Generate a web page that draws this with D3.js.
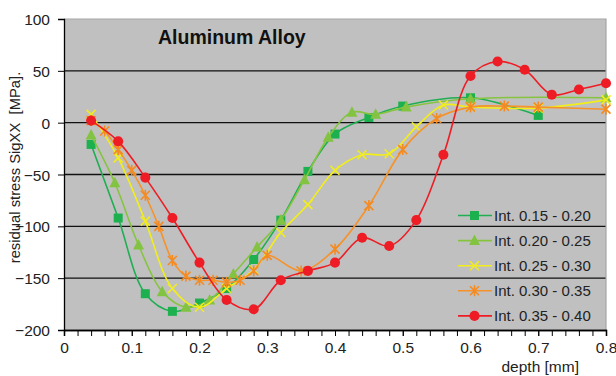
<!DOCTYPE html>
<html><head><meta charset="utf-8">
<script src="https://cdn.jsdelivr.net/npm/d3@7"></script>
<style>body{margin:0;background:#fff}svg{display:block;font-family:"Liberation Sans",Arial,sans-serif}</style>
</head><body><svg id="c" width="616" height="376"></svg>
<script>
const seriesNames = ["Int. 0.15 - 0.20","Int. 0.20 - 0.25","Int. 0.25 - 0.30","Int. 0.30 - 0.35","Int. 0.35 - 0.40"];
const depth1 = [0.04,0.08,0.12,0.16,0.20,0.24,0.28,0.32,0.36,0.40,0.45,0.50,0.60,0.70];
const stress1 = [-21,-92,-165,-182,-174,-160,-132,-94,-47,-11,5,16,24,7];
const depth2 = [0.04,0.075,0.11,0.145,0.18,0.215,0.25,0.285,0.32,0.355,0.39,0.425,0.46,0.505,0.60,0.80];
const stress2 = [-12,-58,-118,-163,-178,-171,-146,-120,-94,-55,-14,10,8,15,23,24];
const depth3 = [0.04,0.08,0.12,0.16,0.20,0.24,0.28,0.32,0.36,0.40,0.44,0.48,0.52,0.56,0.60,0.70,0.80];
const stress3 = [8,-34,-95,-160,-178,-160,-142,-106,-79,-46,-31,-30,-4,17,15,14,22];
const depth4 = [0.04,0.06,0.08,0.10,0.12,0.14,0.16,0.18,0.20,0.22,0.24,0.26,0.28,0.30,0.35,0.40,0.45,0.50,0.55,0.60,0.65,0.70,0.80];
const stress4 = [2,-8,-26,-46,-70,-100,-133,-148,-152,-152,-154,-152,-143,-128,-143,-122,-80,-26,4,15,16,15,13];
const depth5 = [0.04,0.08,0.12,0.16,0.20,0.24,0.28,0.32,0.36,0.40,0.44,0.48,0.52,0.56,0.60,0.64,0.68,0.72,0.76,0.80];
const stress5 = [2,-18,-53,-92,-135,-171,-180,-152,-143,-135,-111,-119,-94,-31,45,59,51,27,32,38];
const yTicks = [100,50,0,-50,-100,-150,-200];
const xTicks = [0,0.1,0.2,0.3,0.4,0.5,0.6,0.7,0.8];
const titleText = "Aluminum Alloy";
const yLabel = "residual stress SigXX  [MPa].";
const xLabel = "depth [mm]";

const depths = [depth1,depth2,depth3,depth4,depth5];
const stresses = [stress1,stress2,stress3,stress4,stress5];
const colors = ["#1fae52","#86c440","#f2ee1a","#f5922a","#ee1d25"];
const markerColors = ["#1db04f","#82c341","#f0ec20","#f48a22","#ee1d25"];
const shapes = ["square","triangle","x","star","circle"];

const svg = d3.select("#c");
const L=64,R=606,T=19,B=330;
const x = d3.scaleLinear().domain([0,0.8]).range([L,R]);
const y = d3.scaleLinear().domain([-200,100]).range([B,T]);

svg.append("rect").attr("x",L).attr("y",T).attr("width",R-L).attr("height",B-T).attr("fill","#c0c0c0");
svg.append("g").selectAll("line").data(yTicks.filter(v=>v>-200&&v<100)).join("line")
  .attr("x1",L).attr("x2",R).attr("y1",d=>y(d)).attr("y2",d=>y(d)).attr("stroke","#111").attr("stroke-width",1.4);
svg.append("path").attr("d",`M${L},${T}H${R}V${B}`).attr("fill","none").attr("stroke","#a6a6a6").attr("stroke-width",1.2);

const yAxis = d3.axisLeft(y).tickValues(yTicks).tickSize(6).tickPadding(8).tickFormat(d3.format("d"));
const gy = svg.append("g").attr("transform",`translate(${L},0)`).call(yAxis);
const minor = d3.range(0,0.8001,0.02);
const xAxisMinor = d3.axisBottom(x).tickValues(minor).tickSize(6).tickFormat("");
const gxm = svg.append("g").attr("transform",`translate(0,${B})`).call(xAxisMinor);
const xAxis = d3.axisBottom(x).tickValues(xTicks).tickSize(6).tickPadding(6).tickFormat(d=>d===0?"0":d3.format(".1f")(d));
const gx = svg.append("g").attr("transform",`translate(0,${B})`).call(xAxis);
[gy,gx,gxm].forEach(g=>{g.attr("font-size",null).attr("font-family",null);
  g.selectAll("path.domain").attr("stroke","#000").attr("stroke-width",1.3);
  g.selectAll(".tick line").attr("stroke","#000").attr("stroke-width",1);
  g.selectAll("text").attr("fill","#222").attr("font-size","15.5px").attr("font-family","Liberation Sans, Arial, sans-serif");});
gy.selectAll("text").attr("dy","0.36em");

function markerPath(shape){
  switch(shape){
    case "square": return "M-4.5,-4.5H4.5V4.5H-4.5Z";
    case "triangle": return "M0,-6L5.5,4.5H-5.5Z";
    case "x": return "M-4.5,-4.5L4.5,4.5M-4.5,4.5L4.5,-4.5";
    case "star": return "M-4.5,-4.5L4.5,4.5M-4.5,4.5L4.5,-4.5M0,-5.5V5.5";
    case "circle": return d3.symbol(d3.symbolCircle,80)();
  }
}
const stroked = s => s==="x"||s==="star";

const line = d3.line().x(d=>x(d[0])).y(d=>y(d[1])).curve(d3.curveCatmullRom.alpha(0.5));
depths.forEach((dep,i)=>{
  const pts = dep.map((d,j)=>[d,stresses[i][j]]);
  const g = svg.append("g");
  g.append("path").attr("d",line(pts)).attr("fill","none").attr("stroke",colors[i]).attr("stroke-width",1.6);
  g.selectAll("path.m").data(pts).join("path").attr("class","m")
    .attr("transform",d=>`translate(${x(d[0])},${y(d[1])})`)
    .attr("d",markerPath(shapes[i]))
    .attr("fill",stroked(shapes[i])?"none":markerColors[i])
    .attr("stroke",stroked(shapes[i])?markerColors[i]:"none")
    .attr("stroke-width",1.6);
});

svg.append("text").attr("x",158).attr("y",44).text(titleText)
  .style("font-size","19.5px").style("font-weight","bold").attr("fill","#111");

const lg = svg.append("g");
seriesNames.forEach((n,i)=>{
  const cy = 215.5 + i*25.1;
  lg.append("line").attr("x1",458).attr("x2",492).attr("y1",cy).attr("y2",cy).attr("stroke",colors[i]).attr("stroke-width",1.6);
  lg.append("path").attr("transform",`translate(474.5,${cy})`).attr("d",markerPath(shapes[i]))
    .attr("fill",stroked(shapes[i])?"none":markerColors[i])
    .attr("stroke",stroked(shapes[i])?markerColors[i]:"none").attr("stroke-width",1.6);
  lg.append("text").attr("x",494).attr("y",cy).attr("dy","0.36em").text(n)
    .style("font-size","15px").attr("fill","#222");
});

svg.append("text").attr("transform","translate(19.5,167.5) rotate(-90)").attr("text-anchor","middle").text(yLabel)
  .style("font-size","14.8px").style("white-space","pre").attr("fill","#222");
svg.append("text").attr("x",579).attr("y",371.5).attr("text-anchor","end").text(xLabel)
  .style("font-size","15.5px").attr("fill","#222");
</script></body></html>
